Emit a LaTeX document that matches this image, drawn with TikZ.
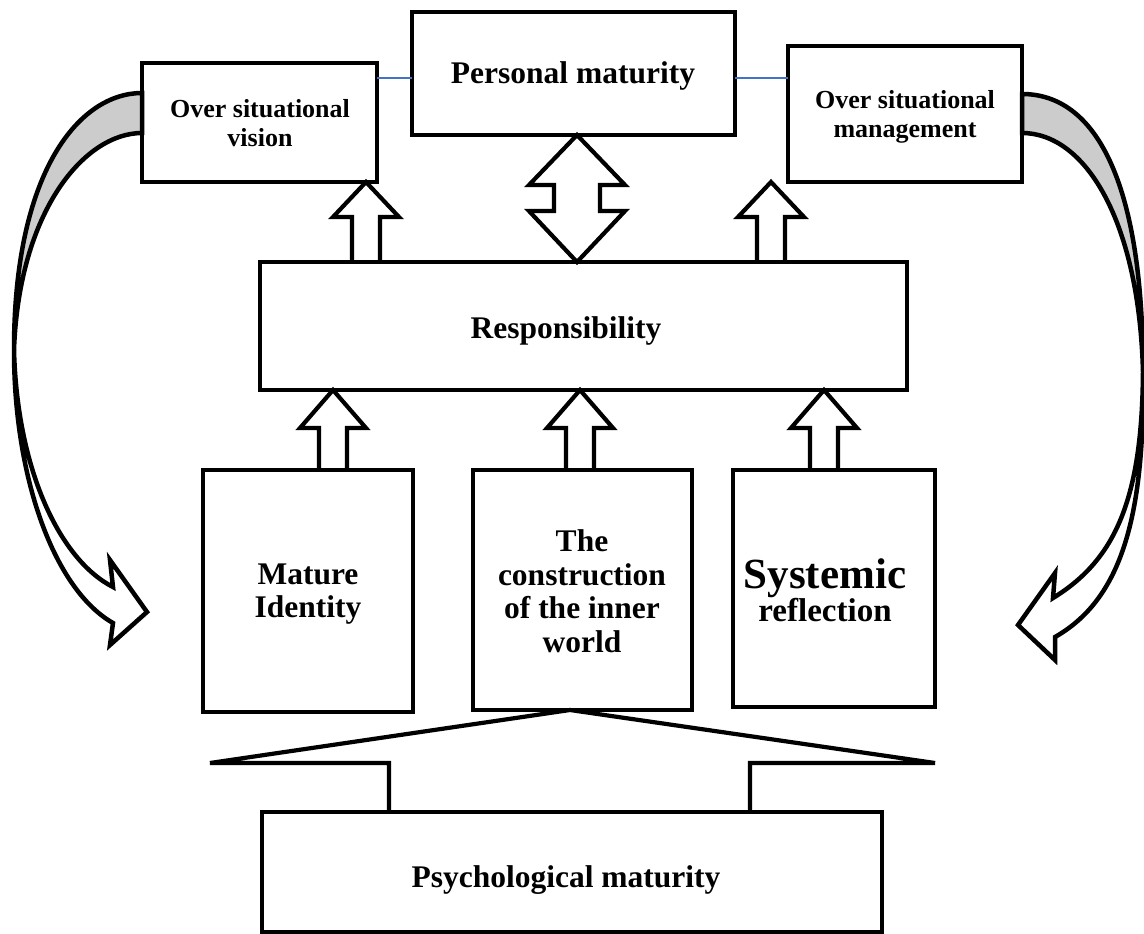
\documentclass[tikz,border=0pt]{standalone}
\usepackage{fontspec}
\setmainfont{Liberation Serif}
\usetikzlibrary{calc}
\definecolor{blueline}{HTML}{4472C4}
\definecolor{backgrey}{HTML}{CCCCCC}
\tikzset{
  box/.style={draw, line width=4.5pt, rectangle, inner sep=0pt, outer sep=0pt},
  lbl/.style={font=\bfseries\fontsize{31.5}{33.5}\selectfont, align=center, inner sep=0pt},
  slbl/.style={font=\bfseries\fontsize{26}{29}\selectfont, align=center, inner sep=0pt},
  blk/.style={draw, line width=4.2pt, line join=miter},
  curvgrey/.style={draw, line width=4.5pt, fill=backgrey, line join=miter},
  curvwhite/.style={draw, line width=4.5pt, fill=white, line join=miter},
  thinline/.style={draw=blueline, line width=1.5pt}
}
% #1 x, #2 tip anchor, #3 base anchor, #4 head length, #5 shaft half width
\newcommand\upblock[5]{%
  \draw[blk] let \p1=(#2), \p2=(#3) in
    (#1pt-#5pt,\y2) -- (#1pt-#5pt,\y1-#4pt) -- (#1pt-33pt,\y1-#4pt) -- (#1pt,\y1)
    -- (#1pt+33pt,\y1-#4pt) -- (#1pt+#5pt,\y1-#4pt) -- (#1pt+#5pt,\y2);}
\begin{document}
\begin{tikzpicture}[x=1pt,y=-1pt]
\useasboundingbox (0,0) rectangle (1144,934);

% boxes
\node[box, minimum width=235pt, minimum height=119pt] (osv) at (259.5,122.5) {};
\node[box, minimum width=323pt, minimum height=123pt] (pm) at (573.5,73.5) {};
\node[box, minimum width=234pt, minimum height=136pt] (osm) at (905,114) {};
\node[box, minimum width=647pt, minimum height=128pt] (resp) at (583.5,326) {};
\node[box, minimum width=210pt, minimum height=242pt] (mi) at (308,591) {};
\node[box, minimum width=219pt, minimum height=240pt] (con) at (582.5,590) {};
\node[box, minimum width=202pt, minimum height=237pt] (sr) at (834,588.5) {};
\node[box, minimum width=620pt, minimum height=120pt] (psy) at (572,872) {};

% texts
\node[slbl] (tosv) at (260,123) {Over situational\\vision};
\node[lbl] (tpm) at (573,76) {Personal maturity};
\node[slbl] (tosm) at (905,117) {Over situational\\management};
\node[lbl] (tresp) at (566,331) {Responsibility};
\node[lbl] (tmi) at (308,594) {Mature\\Identity};
\node[lbl] (tcon) at (582,591) {The\\construction\\of the inner\\world};
\node[lbl, font=\bfseries\fontsize{33}{33.5}\selectfont] (tsr) at (825,590) {{\fontsize{43}{43}\selectfont Systemic}\\reflection};
\node[lbl] (tpsy) at (566,880) {Psychological maturity};

% thin blue links
\coordinate (bl) at (0,78);
\draw[thinline] (bl -| osv.east) -- (bl -| pm.west);
\draw[thinline] (bl -| pm.east) -- (bl -| osm.west);

% block arrows
\upblock{366}{osv.south}{resp.north}{35}{14}
\upblock{771}{osm.south}{resp.north}{35}{14}
\upblock{333}{resp.south}{mi.north}{38}{14}
\upblock{580}{resp.south}{con.north}{38}{14}
\upblock{824}{resp.south}{sr.north}{38}{14}

% double arrow
\draw[blk] let \p1=(pm.south), \p2=(resp.north) in
  (577pt,\y1) -- (529pt,\y1-50pt) -- (554pt,\y1-50pt) -- (554pt,\y2+51pt)
  -- (529pt,\y2+51pt) -- (577pt,\y2) -- (625pt,\y2+51pt) -- (600pt,\y2+51pt)
  -- (600pt,\y1-50pt) -- (625pt,\y1-50pt) -- cycle;

% bottom connector
\draw[blk] let \p1=(con.south), \p2=(psy.north) in
  (389pt,\y2) -- (389,763) -- (210,763) -- (570pt,\y1) -- (935,763) -- (750,763) -- (750pt,\y2);

% left curved arrow
\coordinate (la1) at (osv.west |- 0,93);
\coordinate (la2) at (osv.west |- 0,133);
\coordinate (lmid) at (14,350);
\draw[curvgrey] (la1) .. controls (80,93) and (14,170) .. (lmid)
  .. controls (19,210) and (85,133) .. (la2) -- cycle;
\draw[curvwhite] (lmid) .. controls (14,480) and (55,590) .. (113,623)
  -- (110,645) -- (147,612) -- (110,560) -- (113,587)
  .. controls (60,560) and (17,470) .. (lmid) -- cycle;

% right curved arrow
\coordinate (ra1) at (osm.east |- 0,94);
\coordinate (ra2) at (osm.east |- 0,133);
\coordinate (rmid) at (1143,372);
\draw[curvgrey] (ra1) .. controls (1095,94) and (1143,180) .. (rmid)
  .. controls (1139,220) and (1085,133) .. (ra2) -- cycle;
\draw[curvwhite] (rmid) .. controls (1145,520) and (1120,600) .. (1055,637)
  -- (1055,660) -- (1018,625) -- (1055,573) -- (1053,598)
  .. controls (1115,560) and (1142,500) .. (rmid) -- cycle;
\end{tikzpicture}
\end{document}
